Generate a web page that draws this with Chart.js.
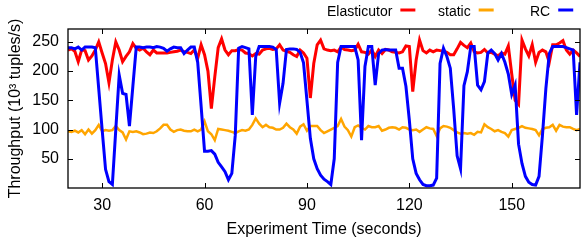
<!DOCTYPE html>
<html>
<head>
<meta charset="utf-8">
<script src="https://cdn.jsdelivr.net/npm/chart.js@4.4.1/dist/chart.umd.min.js"></script>
<style>
  html, body { margin: 0; padding: 0; background: #fff; }
  #wrap { width: 581px; height: 246px; }
</style>
</head>
<body>
<div id="wrap"><canvas id="chart" width="581" height="246"></canvas></div>
<script>
// sample times (seconds)
const times = [
  20, 21, 22, 23, 24, 25, 26, 27, 28, 29,
  30, 31, 32, 33, 34, 35, 36, 37, 38, 39,
  40, 41, 42, 43, 44, 45, 46, 47, 48, 49,
  50, 51, 52, 53, 54, 55, 56, 57, 58, 59,
  60, 61, 62, 63, 64, 65, 66, 67, 68, 69,
  70, 71, 72, 73, 74, 75, 76, 77, 78, 79,
  80, 81, 82, 83, 84, 85, 86, 87, 88, 89,
  90, 91, 92, 93, 94, 95, 96, 97, 98, 99,
  100, 101, 102, 103, 104, 105, 106, 107, 108, 109,
  110, 111, 112, 113, 114, 115, 116, 117, 118, 119,
  120, 121, 122, 123, 124, 125, 126, 127, 128, 129,
  130, 131, 132, 133, 134, 135, 136, 137, 138, 139,
  140, 141, 142, 143, 144, 145, 146, 147, 148, 149,
  150, 151, 152, 153, 154, 155, 156, 157, 158, 159,
  160, 161, 162, 163, 164, 165, 166, 167, 168, 169, 170
];

// throughput, 10^3 tuples/s
const elasticutor = [
  236, 238, 234, 216, 236, 235, 219, 226, 236, 250,
  231, 213, 180, 219, 250, 236, 216, 225, 233, 247,
  239, 236, 239, 233, 228, 236, 231, 231, 231, 231,
  232, 233, 234, 236, 233, 232, 230, 236, 222, 245,
  228, 200, 136, 190, 240, 255, 236, 228, 235, 235,
  237, 236, 231, 230, 226, 230, 229, 236, 238, 239,
  237, 238, 245, 236, 234, 232, 228, 225, 236, 231,
  222, 154, 213, 245, 253, 238, 236, 235, 236, 233,
  241, 237, 236, 235, 236, 246, 233, 232, 229, 236,
  225, 236, 230, 237, 236, 233, 232, 231, 233, 243,
  242, 165, 219, 253, 235, 231, 236, 233, 236, 235,
  234, 232, 228, 228, 238, 249, 244, 240, 248, 233,
  231, 232, 237, 231, 232, 229, 226, 231, 229, 243,
  195, 150, 143, 253, 238, 226, 245, 215, 232, 236,
  233, 215, 245, 245, 248, 252, 236, 229, 236, 231, 225
];

const staticRate = [
  97, 96, 98, 95, 99, 92, 100, 93, 99, 108,
  97, 99, 98, 99, 106, 99, 95, 83, 97, 96,
  97, 95, 92, 93, 95, 94, 97, 102, 108, 108,
  100, 96, 99, 100, 98, 97, 97, 100, 97, 100,
  114, 97, 92, 82, 101, 100, 99, 98, 96, 94,
  97, 99, 98, 100, 108, 119, 110, 104, 108, 104,
  103, 100, 100, 103, 110, 104, 100, 93, 105, 109,
  98, 106, 106, 106, 99, 94, 97, 100, 103, 106,
  118, 105, 99, 88, 104, 107, 103, 100, 106, 104,
  104, 106, 98, 100, 103, 104, 103, 100, 104, 103,
  100, 99, 100, 96, 100, 104, 102, 101, 89, 102,
  106, 105, 103, 99, 95, 93, 94, 93, 94, 91,
  96, 95, 109, 104, 101, 97, 99, 96, 94, 88,
  99, 101, 103, 106, 103, 102, 101, 99, 90, 101,
  103, 104, 108, 98, 108, 105, 104, 104, 101, 99, 101
];

const rc = [
  240, 240, 238, 241, 236, 241, 241, 241, 240, 170,
  100, 32, 11, 6, 100, 193, 162, 160, 106, 174,
  241, 241, 240, 241, 241, 240, 242, 241, 239, 234,
  238, 241, 240, 240, 230, 236, 241, 241, 215, 140,
  63, 63, 64, 58, 44, 36, 28, 14, 25, 90,
  239, 242, 240, 238, 125, 225, 242, 242, 242, 242,
  241, 237, 145, 179, 237, 238, 238, 237, 232, 214,
  150, 85, 50, 33, 22, 15, 11, 6, 50, 215,
  242, 242, 242, 242, 242, 219, 82, 208, 242, 242,
  176, 230, 236, 237, 236, 236, 236, 205, 205, 174,
  116, 50, 25, 14, 6, 4, 4, 5, 17, 213,
  239, 225, 205, 135, 55, 33, 175, 199, 242, 242,
  176, 168, 182, 231, 236, 230, 219, 230, 215, 195,
  160, 176, 75, 42, 20, 10, 6, 5, 20, 90,
  170, 230, 242, 242, 242, 242, 240, 238, 236, 125, 215
];

const xTicks = [30, 60, 90, 120, 150];
const yTicks = [50, 100, 150, 200, 250];
const seriesNames = ["Elasticutor", "static", "RC"];
const seriesColors = ["#ff0000", "#ffa500", "#0000ff"];

const fontFamily = "'Liberation Sans', Arial, Helvetica, sans-serif";
Chart.defaults.font.family = fontFamily;
Chart.defaults.color = "#000";

// legend item left edges, px (text first, line sample after)
const legendLeft = [327, 438, 530];

const topLegend = {
  id: "topLegend",
  afterDraw(chart) {
    const ctx = chart.ctx;
    ctx.save();
    ctx.font = "14px " + fontFamily;
    ctx.textBaseline = "alphabetic";
    chart.data.datasets.forEach((ds, i) => {
      const x0 = legendLeft[i];
      ctx.fillStyle = "#000";
      ctx.fillText(ds.label, x0, 15.5);
      const w = ctx.measureText(ds.label).width;
      ctx.strokeStyle = ds.borderColor;
      ctx.lineWidth = 3;
      ctx.beginPath();
      ctx.moveTo(x0 + w + 8, 10);
      ctx.lineTo(x0 + w + 23, 10);
      ctx.stroke();
    });
    ctx.restore();
  }
};

// matlab-like box with inward ticks on all sides
const boxFrame = {
  id: "boxFrame",
  afterDraw(chart) {
    const { ctx, chartArea: a, scales } = chart;
    const tick = 5;
    ctx.save();
    ctx.strokeStyle = "#000";
    ctx.lineWidth = 1.3;
    ctx.strokeRect(a.left, a.top, a.right - a.left, a.bottom - a.top);
    ctx.beginPath();
    xTicks.forEach((v) => {
      const px = Math.round(scales.x.getPixelForValue(v)) + 0.5;
      ctx.moveTo(px, a.bottom); ctx.lineTo(px, a.bottom - tick);
      ctx.moveTo(px, a.top); ctx.lineTo(px, a.top + tick);
    });
    yTicks.forEach((v) => {
      const py = Math.round(scales.y.getPixelForValue(v)) + 0.5;
      ctx.moveTo(a.left, py); ctx.lineTo(a.left + tick, py);
      ctx.moveTo(a.right, py); ctx.lineTo(a.right - tick, py);
    });
    ctx.lineWidth = 1;
    ctx.stroke();
    ctx.restore();
  }
};

const series = [elasticutor, staticRate, rc];
const lineWidths = [3, 2.5, 3];
const drawOrder = [2, 1, 0];

new Chart(document.getElementById("chart"), {
  type: "line",
  data: {
    labels: times,
    datasets: series.map((values, i) => ({
      label: seriesNames[i],
      data: values,
      borderColor: seriesColors[i],
      backgroundColor: seriesColors[i],
      borderWidth: lineWidths[i],
      pointRadius: 0,
      tension: 0,
      fill: false,
      order: drawOrder[i],
    })),
  },
  options: {
    responsive: false,
    animation: false,
    events: [],
    layout: { padding: { top: 29, right: 1, left: 0, bottom: 0 } },
    plugins: {
      legend: { display: false },
      tooltip: { enabled: false },
    },
    scales: {
      x: {
        type: "linear",
        min: 20,
        max: 170,
        afterBuildTicks: (s) => { s.ticks = xTicks.map((v) => ({ value: v })); },
        afterFit: (s) => { s.height = 58; },
        grid: { display: false, drawTicks: false },
        border: { display: false },
        ticks: { font: { size: 16 }, color: "#000", padding: 8, maxRotation: 0 },
        title: {
          display: true,
          text: "Experiment Time (seconds)",
          font: { size: 16 },
          color: "#000",
          padding: { top: 0, bottom: 7 },
        },
      },
      y: {
        min: 0,
        max: 272,
        afterBuildTicks: (s) => { s.ticks = yTicks.map((v) => ({ value: v })); },
        afterFit: (s) => { s.width = 68; },
        grid: { display: false, drawTicks: false },
        border: { display: false },
        ticks: { font: { size: 16 }, color: "#000", padding: 9 },
        title: {
          display: true,
          text: "Throughput (10³ tuples/s)",
          font: { size: 16 },
          color: "#000",
          padding: { top: 6, bottom: 0 },
        },
      },
    },
  },
  plugins: [topLegend, boxFrame],
});
</script>
</body>
</html>
